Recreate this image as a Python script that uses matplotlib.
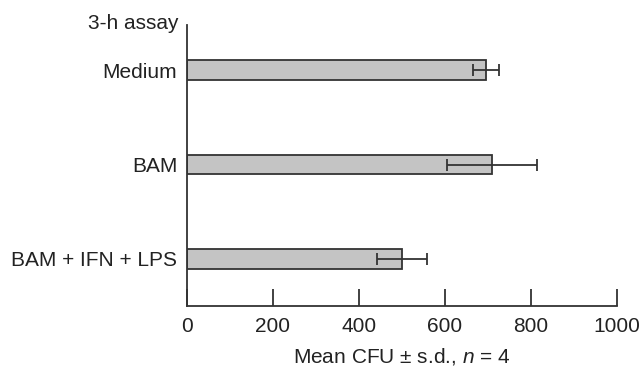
import matplotlib.pyplot as plt

plt.rcParams['font.family'] = ['Liberation Sans', 'DejaVu Sans']
plt.rcParams['mathtext.fontset'] = 'custom'
plt.rcParams['mathtext.it'] = 'Liberation Sans:italic'
plt.rcParams['mathtext.rm'] = 'Liberation Sans'

# data
groups = ['BAM + IFN + LPS', 'BAM', 'Medium']
means = [500, 710, 695]
sds = [57, 105, 30]
xticks = [0, 200, 400, 600, 800, 1000]

ink = '#222222'

fig = plt.figure(figsize=(6.39, 3.69), dpi=100)
ax = fig.add_axes([0.2926, 0.1707, 0.6730, 0.7615])

ypos = list(range(len(groups)))
ax.barh(ypos, means, height=0.21, color='#c4c4c4', edgecolor='#333333',
        linewidth=1.3, zorder=2)
ax.errorbar(means, ypos, xerr=sds, fmt='none', ecolor='#333333',
            elinewidth=1.3, capsize=4, capthick=1.3, zorder=3)

ax.set_xlim(0, 1000)
ax.set_ylim(-0.5, 2.48)
ax.set_xticks(xticks)
ax.set_yticks(ypos)
ax.set_yticklabels(groups)

for s in ['top', 'right']:
    ax.spines[s].set_visible(False)
for s in ['left', 'bottom']:
    ax.spines[s].set_linewidth(1.3)
    ax.spines[s].set_color('#333333')

ax.tick_params(axis='x', direction='in', length=12, width=1.3, pad=8,
               labelsize=15, colors='#333333', labelcolor=ink)
ax.tick_params(axis='y', direction='in', length=4, width=1.3, pad=7,
               labelsize=15, colors='#333333', labelcolor=ink)
for t in ax.yaxis.get_major_ticks():
    t.tick1line.set_zorder(4)

ax.set_xlabel('Mean CFU ± s.d., $n$ = 4', fontsize=15, color=ink, labelpad=7)

fig.text(0.279, 0.935, '3-h assay', ha='right', va='center', fontsize=15,
         color=ink)

fig.savefig('out.png', dpi=100)
